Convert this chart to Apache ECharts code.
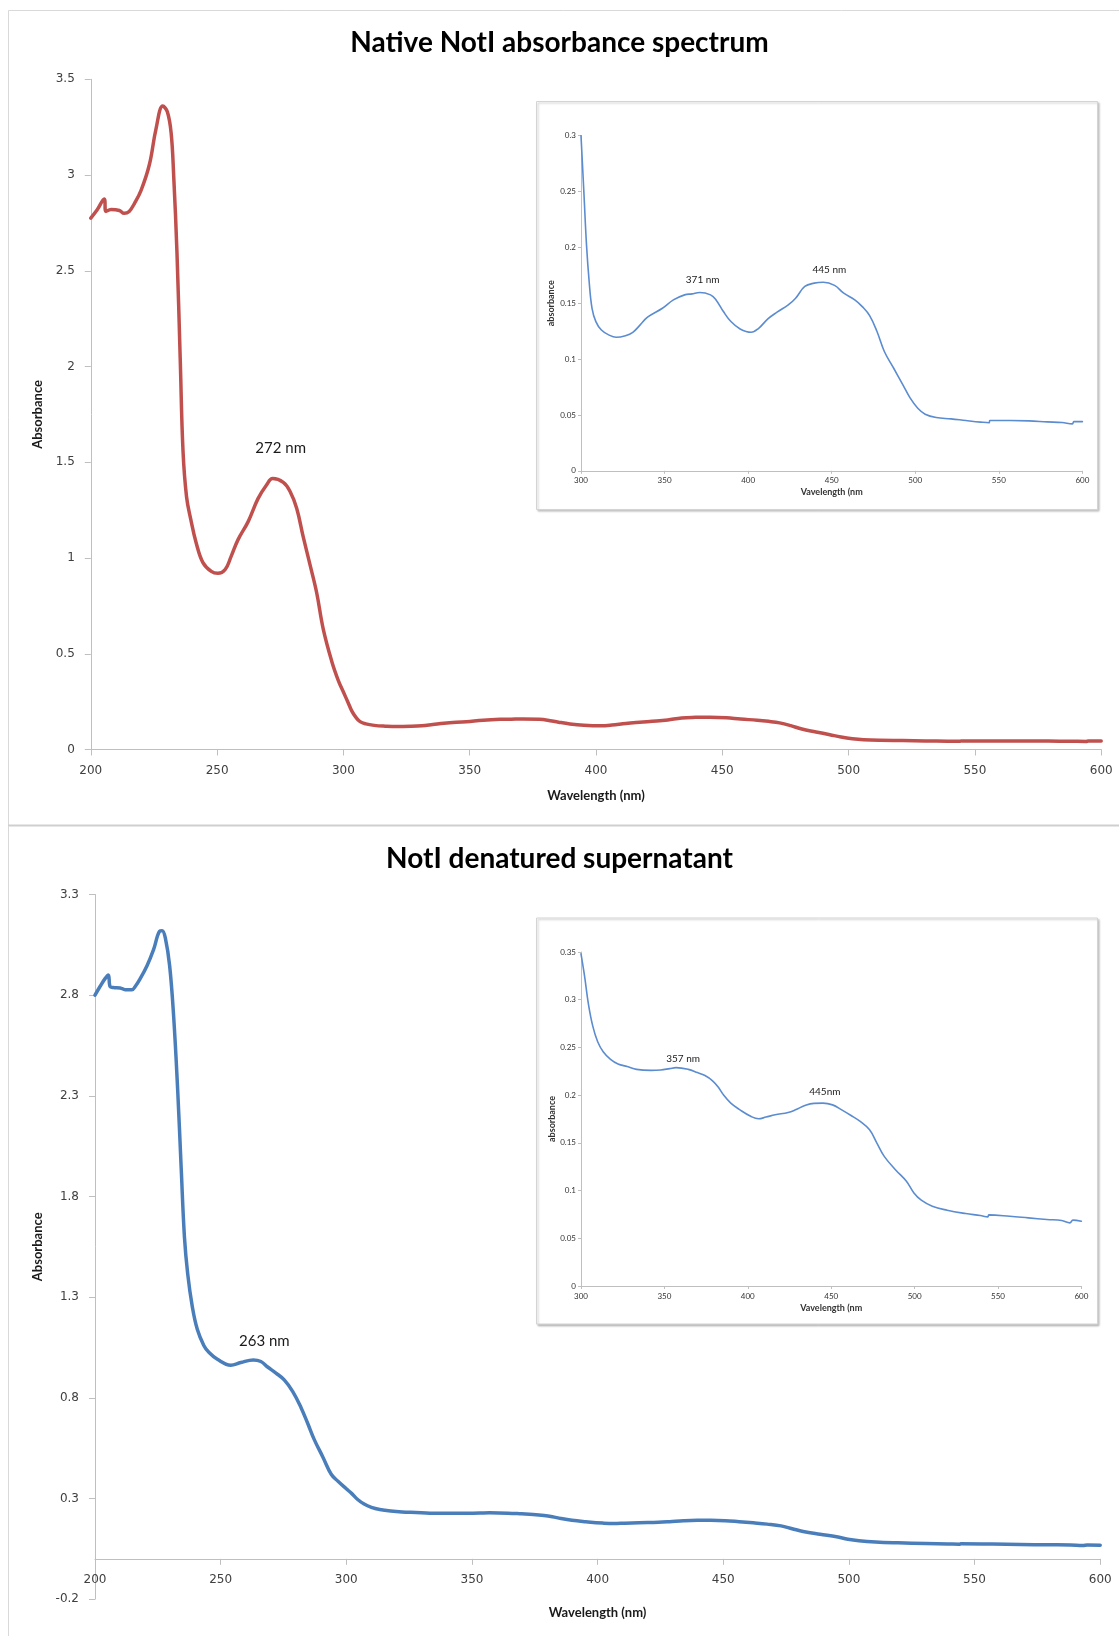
<!DOCTYPE html>
<html>
<head>
<meta charset="utf-8">
<title>NotI absorbance spectra</title>
<script src="https://cdn.jsdelivr.net/npm/echarts@6/dist/echarts.min.js"></script>
<style>
  html, body { margin: 0; padding: 0; background: #ffffff; }
  #chart { width: 1119px; height: 1636px; }
</style>
</head>
<body>
<div id="chart"></div>
<script>
// ---- Spectra: [wavelength (nm), absorbance] ----
// Native NotI, UV region
const nativeUv = [
  [200, 2.775], [202.6, 2.82], [205.3, 2.875], [206, 2.81], [208, 2.82], [211.3, 2.815],
  [213.2, 2.80], [215.2, 2.81], [217.2, 2.85], [219.9, 2.92], [223.2, 3.055], [225.8, 3.24],
  [228.5, 3.36], [230.3, 3.33], [231.8, 3.22], [232.8, 3.0], [234.1, 2.6], [235.4, 2.04],
  [236.5, 1.56], [237.9, 1.32], [239.6, 1.20], [241.7, 1.08], [244.4, 0.976], [247.7, 0.93],
  [250.3, 0.92], [253.2, 0.94], [255.6, 1.01], [258.3, 1.096], [262.3, 1.19], [266.2, 1.31],
  [269.5, 1.38], [272, 1.415], [276.2, 1.395], [278.8, 1.35], [281.5, 1.26], [284.1, 1.11],
  [286.8, 0.964], [289.4, 0.82], [292, 0.63], [295.4, 0.46], [298, 0.36]
];
// Native NotI, visible region
const nativeVis = [
  [300, 0.300], [301.8, 0.247], [303.3, 0.202], [304.9, 0.169], [306.6, 0.1455], [308.9, 0.1336],
  [312.2, 0.126], [316.6, 0.1217], [321, 0.1196], [326.6, 0.121], [331, 0.124], [335.4, 0.1306],
  [339.8, 0.1375], [348.7, 0.1455], [355.3, 0.153], [362, 0.1575], [366.4, 0.1584], [371, 0.1596],
  [377.5, 0.1575], [380.8, 0.153], [385.2, 0.1426], [389.7, 0.1336], [395.2, 0.127], [401.8, 0.124],
  [406.3, 0.1276], [411.8, 0.136], [417.3, 0.142], [424, 0.1485], [428.4, 0.1545], [433.9, 0.165],
  [439.5, 0.168], [445, 0.1688], [451.7, 0.166], [457.2, 0.159], [463.8, 0.153], [468.3, 0.147],
  [472.7, 0.139], [477.1, 0.1247], [481.5, 0.1068], [487.1, 0.0918], [492.6, 0.077], [497, 0.065],
  [501.5, 0.056], [505.9, 0.0507], [512.5, 0.0477], [521.4, 0.0465], [530.3, 0.045], [539.1, 0.0436],
  [544.2, 0.043], [544.6, 0.045], [556.8, 0.045], [567.9, 0.0447], [579, 0.0438], [587.8, 0.0432],
  [594, 0.042], [594.9, 0.044], [600, 0.044]
];
// Denatured supernatant, UV region
const denaturedUv = [
  [200, 2.80], [202, 2.843], [204, 2.882], [205.3, 2.90], [206, 2.843], [207.3, 2.838],
  [210, 2.836], [212, 2.827], [214.7, 2.827], [216, 2.843], [218, 2.882], [220.7, 2.946],
  [223.3, 3.026], [225.7, 3.117], [226.7, 3.12], [228, 3.083], [229.7, 2.946], [231.3, 2.694],
  [232.9, 2.329], [234.3, 1.94], [235.6, 1.597], [236.9, 1.414], [238.7, 1.254], [240.7, 1.14],
  [243.3, 1.06], [245.3, 1.026], [248.7, 0.991], [254, 0.962], [258, 0.975], [263, 0.988],
  [266, 0.98], [268.7, 0.953], [272, 0.923], [275.3, 0.889], [278.7, 0.831], [282, 0.751],
  [284.7, 0.671], [287.3, 0.591], [290.7, 0.505], [294, 0.42], [296.7, 0.385]
];
// Denatured supernatant, visible region
const denaturedVis = [
  [300, 0.348], [302.2, 0.324], [304.4, 0.296], [307.1, 0.272], [310, 0.256], [313.3, 0.2455],
  [317.7, 0.2375], [322.2, 0.2327], [327.7, 0.230], [333.3, 0.227], [342.1, 0.226], [347.7, 0.2264],
  [353.2, 0.2278], [357, 0.2288], [364.3, 0.227], [369.8, 0.2236], [374.3, 0.2205], [378.7, 0.2153],
  [382, 0.209], [385.4, 0.2003], [389.8, 0.1916], [395.3, 0.1846], [402, 0.1776], [406.4, 0.1752],
  [410.9, 0.177], [416.4, 0.1794], [424.2, 0.1818], [428.6, 0.1846], [434.2, 0.1891], [439.7, 0.1914],
  [445, 0.1916], [450.8, 0.1898], [456.3, 0.1846], [461.9, 0.1787], [467.4, 0.1724], [473, 0.1637],
  [477.4, 0.1498], [481.8, 0.1358], [488.5, 0.1219], [495.1, 0.1097], [499.6, 0.0975], [504, 0.0899],
  [510.6, 0.0836], [519.5, 0.0794], [530.6, 0.0759], [539.4, 0.0738], [543.9, 0.0724], [544.5, 0.0745],
  [557.1, 0.0731], [568.2, 0.0714], [579.3, 0.0697], [588.2, 0.0686], [593.1, 0.0662], [594.9, 0.069],
  [600, 0.0679]
];

// Peak annotations: [wavelength, text]
const nativeMainPeaks = [[272, '272 nm']];
const nativeInsetPeaks = [[371, '371 nm'], [445, '445 nm']];
const denaturedMainPeaks = [[263, '263 nm']];
const denaturedInsetPeaks = [[357, '357 nm'], [445, '445nm']];

// Titles and axis names
const titles = ['Native NotI absorbance spectrum', 'NotI denatured supernatant'];
const mainXName = 'Wavelength (nm)';
const mainYName = 'Absorbance';
const insetXName = 'Vavelength (nm';
const insetYName = 'absorbance';

// ---- Styling helpers ----
const AXIS_GREY = '#bfbfbf';
const RED = '#c0504d';
const BLUE = '#4a7ebb';
const INSET_BLUE = '#5b8cd0';

const fmt = v => String(+v.toFixed(2));

function absorbanceAt(series, nm) {
  const p = series.find(d => d[0] === nm);
  return p ? p[1] : null;
}

function peakMarks(series, peaks, offsets, fontSize) {
  return {
    symbol: 'circle',
    symbolSize: 1,
    silent: true,
    itemStyle: { color: 'rgba(0,0,0,0)' },
    label: {
      show: true,
      position: 'inside',
      formatter: '{b}',
      fontFamily: 'Lato',
      fontSize: fontSize,
      color: '#1a1a1a'
    },
    data: peaks.map((pk, i) => ({
      name: pk[1],
      coord: [pk[0], absorbanceAt(series, pk[0])],
      label: { offset: offsets[i] }
    }))
  };
}

// offset: shift of the axis from the grid bottom (negative = upwards), used to
// run the lower chart's wavelength axis through absorbance 0
function mainXAxis(gridIndex, nameGap, labelMargin, offset) {
  return {
    type: 'value', gridIndex, min: 200, max: 600, interval: 50, offset,
    axisLine: { show: true, onZero: false, lineStyle: { color: AXIS_GREY, width: 1 } },
    axisTick: { show: true, length: 6, lineStyle: { color: AXIS_GREY } },
    axisLabel: { margin: labelMargin, fontFamily: 'DejaVu Sans', fontSize: 12, color: '#404040', formatter: fmt },
    splitLine: { show: false },
    name: mainXName, nameLocation: 'middle', nameGap,
    nameTextStyle: { fontFamily: 'Lato', fontWeight: 'bold', fontSize: 13, color: '#1a1a1a' }
  };
}

function mainYAxis(gridIndex, min, max, nameGap) {
  return {
    type: 'value', gridIndex, min, max, interval: 0.5,
    axisLine: { show: true, lineStyle: { color: AXIS_GREY, width: 1 } },
    axisTick: { show: true, length: 6, lineStyle: { color: AXIS_GREY } },
    axisLabel: { margin: 16, fontFamily: 'DejaVu Sans', fontSize: 12, color: '#404040', formatter: fmt },
    splitLine: { show: false },
    name: mainYName, nameLocation: 'middle', nameGap, nameRotate: 90,
    nameTextStyle: { fontFamily: 'Lato', fontWeight: 'bold', fontSize: 13, color: '#1a1a1a' }
  };
}

function insetXAxis(gridIndex, nameGap) {
  return {
    type: 'value', gridIndex, min: 300, max: 600, interval: 50, z: 4,
    axisLine: { show: true, lineStyle: { color: AXIS_GREY, width: 1 } },
    axisTick: { show: true, length: 3, lineStyle: { color: AXIS_GREY } },
    axisLabel: { margin: 6, fontFamily: 'Lato', fontSize: 8, color: '#333333', formatter: fmt },
    splitLine: { show: false },
    name: insetXName, nameLocation: 'middle', nameGap,
    nameTextStyle: { fontFamily: 'Lato', fontWeight: 'bold', fontSize: 9, color: '#333333' }
  };
}

function insetYAxis(gridIndex, max, nameGap) {
  return {
    type: 'value', gridIndex, min: 0, max, interval: 0.05, z: 4,
    axisLine: { show: true, lineStyle: { color: AXIS_GREY, width: 1 } },
    axisTick: { show: true, length: 3, lineStyle: { color: AXIS_GREY } },
    axisLabel: { margin: 5, fontFamily: 'Lato', fontSize: 8, color: '#333333', formatter: fmt },
    splitLine: { show: false },
    name: insetYName, nameLocation: 'middle', nameGap, nameRotate: 90,
    nameTextStyle: { fontFamily: 'Lato', fontWeight: 'bold', fontSize: 9, color: '#333333' }
  };
}

function lineSeries(xi, data, color, width, z) {
  return {
    type: 'line', xAxisIndex: xi, yAxisIndex: xi, data,
    showSymbol: false, symbol: 'none', smooth: 0.4,
    lineStyle: { color, width, cap: 'round', join: 'round' },
    z, animation: false
  };
}

const nativeAll = nativeUv.concat(nativeVis);
const denaturedAll = denaturedUv.concat(denaturedVis);

const chart = echarts.init(document.getElementById('chart'), null, { renderer: 'canvas', width: 1119, height: 1636 });

const gridBase = { containLabel: false, outerBoundsMode: 'none' };

// lower chart: absorbance range and plot height, for placing its x axis at 0
const denMin = -0.2, denMax = 3.3, denHeight = 704.6;
const denZeroOffset = -(0 - denMin) / (denMax - denMin) * denHeight;

const option = {
  backgroundColor: '#ffffff',
  animation: false,
  title: [
    { text: titles[0], left: 'center', top: 24, textStyle: { fontFamily: 'Lato', fontWeight: 'bold', fontSize: 28, color: '#000000' } },
    { text: titles[1], left: 'center', top: 840, textStyle: { fontFamily: 'Lato', fontWeight: 'bold', fontSize: 28, color: '#000000' } }
  ],
  grid: [
    Object.assign({ left: 90.8, top: 79.3, width: 1010.4, height: 670.2 }, gridBase),
    Object.assign({ left: 581, top: 135.7, width: 501.4, height: 335.1, z: 4 }, gridBase),
    Object.assign({ left: 95, top: 894.5, width: 1005.2, height: denHeight }, gridBase),
    Object.assign({ left: 581, top: 952, width: 500.4, height: 334, z: 4 }, gridBase)
  ],
  xAxis: [
    mainXAxis(0, 40, 15, 0),
    insetXAxis(1, 17),
    mainXAxis(2, 47, 15, denZeroOffset),
    insetXAxis(3, 18)
  ],
  yAxis: [
    mainYAxis(0, 0, 3.5, 46),
    insetYAxis(1, 0.3, 25),
    mainYAxis(2, denMin, denMax, 50),
    insetYAxis(3, 0.35, 23)
  ],
  graphic: [
    // chart area frames
    { type: 'polyline', z: 0, shape: { points: [[8.5, 825], [8.5, 10.5], [1119, 10.5]] }, style: { stroke: '#d9d9d9', lineWidth: 1, fill: null } },
    { type: 'line', z: 0, shape: { x1: 8, y1: 825.5, x2: 1119, y2: 825.5 }, style: { stroke: '#cfcfcf', lineWidth: 2 } },
    { type: 'line', z: 0, shape: { x1: 8.5, y1: 826, x2: 8.5, y2: 1636 }, style: { stroke: '#d9d9d9', lineWidth: 1 } },
    // inset frames
    { type: 'rect', z: 1, shape: { x: 536.5, y: 101.5, width: 561, height: 408 },
      style: { fill: '#ffffff', stroke: '#d4d4d4', lineWidth: 1, shadowBlur: 2, shadowOffsetX: 1.5, shadowOffsetY: 1.5, shadowColor: 'rgba(0,0,0,0.22)' } },
    { type: 'rect', z: 1, shape: { x: 536.5, y: 918, width: 561, height: 406 },
      style: { fill: '#ffffff', stroke: '#d4d4d4', lineWidth: 1, shadowBlur: 2, shadowOffsetX: 1.5, shadowOffsetY: 1.5, shadowColor: 'rgba(0,0,0,0.22)' } }
  ],
  series: [
    Object.assign(lineSeries(0, nativeAll, RED, 3.5, 3), {
      markPoint: peakMarks(nativeAll, nativeMainPeaks, [[8, -30]], 15)
    }),
    Object.assign(lineSeries(1, nativeVis, INSET_BLUE, 1.6, 5), {
      markPoint: peakMarks(nativeVis, nativeInsetPeaks, [[3, -13], [6, -12]], 10)
    }),
    Object.assign(lineSeries(2, denaturedAll, BLUE, 3.5, 3), {
      markPoint: peakMarks(denaturedAll, denaturedMainPeaks, [[11, -19]], 15)
    }),
    Object.assign(lineSeries(3, denaturedVis, INSET_BLUE, 1.6, 5), {
      markPoint: peakMarks(denaturedVis, denaturedInsetPeaks, [[7, -9], [2, -11]], 10)
    })
  ]
};

chart.setOption(option);
</script>
</body>
</html>
